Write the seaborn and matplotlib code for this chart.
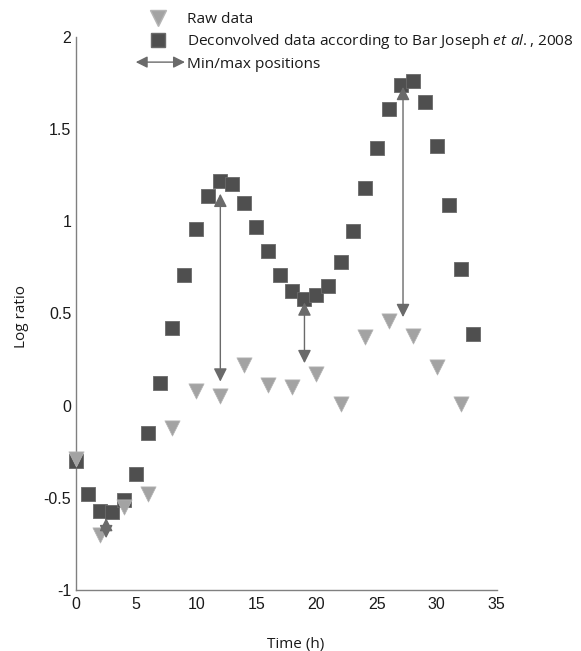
import numpy as np
import pandas as pd
import matplotlib
matplotlib.use("Agg")
import matplotlib.pyplot as plt
import matplotlib.patches as mpatches
from matplotlib.legend_handler import HandlerPatch
from matplotlib.lines import Line2D
import seaborn as sns

# raw data (triangles)
raw_time = [0, 2, 4, 6, 8, 10, 12, 14, 16, 18, 20, 22, 24, 26, 28, 30, 32]
raw_logratio = [-0.29, -0.70, -0.55, -0.48, -0.12, 0.08, 0.05, 0.22, 0.11, 0.10,
                0.17, 0.01, 0.37, 0.46, 0.38, 0.21, 0.01]

# deconvolved data (squares)
dec_time = list(range(0, 34))
dec_logratio = [-0.30, -0.48, -0.57, -0.58, -0.51, -0.37, -0.15, 0.12, 0.42, 0.71,
                0.96, 1.14, 1.22, 1.20, 1.10, 0.97, 0.84, 0.71, 0.62, 0.58,
                0.60, 0.65, 0.78, 0.95, 1.18, 1.40, 1.61, 1.74, 1.76, 1.65,
                1.41, 1.09, 0.74, 0.39]

# min/max arrows: x, top, bottom
arrow_x = [2.5, 12, 19, 27.2]
arrow_top = [-0.61, 1.15, 0.56, 1.73]
arrow_bottom = [-0.72, 0.13, 0.23, 0.48]

raw_df = pd.DataFrame({"time": raw_time, "logratio": raw_logratio})
dec_df = pd.DataFrame({"time": dec_time, "logratio": dec_logratio})

sns.set_style("white")
plt.rcParams["mathtext.fontset"] = "custom"
plt.rcParams["mathtext.it"] = "Open Sans:italic"
plt.rcParams["mathtext.rm"] = "Open Sans"

SQ_COL = "#4f4f4f"
TRI_COL = "#a3a3a3"
ARR_COL = "#6a6a6a"
AX_COL = "#808080"
TXT_COL = "#1a1a1a"

fig = plt.figure(figsize=(5.81, 6.51), dpi=100)
ax = fig.add_axes([0.131, 0.094, 0.724, 0.849])

sns.scatterplot(data=dec_df, x="time", y="logratio", marker="s", s=110,
                color=SQ_COL, edgecolor="#6a6a6a", linewidth=0.6, ax=ax,
                zorder=3, clip_on=False)
sns.scatterplot(data=raw_df, x="time", y="logratio", marker="v", s=120,
                color=TRI_COL, edgecolor="#b5b5b5", linewidth=0.5, ax=ax,
                zorder=4, clip_on=False)

for x, top, bot in zip(arrow_x, arrow_top, arrow_bottom):
    ax.annotate("", xy=(x, top), xytext=(x, bot),
                arrowprops=dict(arrowstyle="<|-|>,head_length=0.8,head_width=0.4",
                                color=ARR_COL, lw=1.0, shrinkA=0, shrinkB=0),
                zorder=5)

ax.set_xlim(0, 35)
ax.set_ylim(-1, 2)
ax.set_xticks(np.arange(0, 36, 5))
ax.set_yticks([-1, -0.5, 0, 0.5, 1, 1.5, 2])
ax.set_yticklabels(["-1", "-0.5", "0", "0.5", "1", "1.5", "2"])
for sp in ["top", "right"]:
    ax.spines[sp].set_visible(False)
for sp in ["left", "bottom"]:
    ax.spines[sp].set_color(AX_COL)
    ax.spines[sp].set_linewidth(1.0)
ax.tick_params(direction="in", length=4, color=AX_COL, labelsize=11.5,
               labelcolor=TXT_COL)
ax.tick_params(axis="y", pad=3.5)
ax.tick_params(axis="x", pad=5)
for lab in ax.get_xticklabels() + ax.get_yticklabels():
    lab.set_fontfamily("Liberation Sans")
ax.set_xlabel("Time (h)", fontsize=11, family="Open Sans", color=TXT_COL)
ax.set_ylabel("Log ratio", fontsize=11, family="Open Sans", color=TXT_COL)
ax.xaxis.set_label_coords(0.523, -0.085)
ax.yaxis.set_label_coords(-0.113, 0.495)


class HandlerArrow(HandlerPatch):
    def create_artists(self, legend, orig_handle, xdescent, ydescent, width,
                       height, fontsize, trans):
        y = height / 2 - ydescent
        p = mpatches.FancyArrowPatch((-xdescent - 4, y), (width - xdescent + 7, y),
                                     arrowstyle="<|-|>,head_length=0.7,head_width=0.35",
                                     color=ARR_COL, lw=1.0, mutation_scale=10,
                                     shrinkA=0, shrinkB=0)
        p.set_transform(trans)
        return [p]


h_raw = Line2D([], [], linestyle="none", marker="v", markersize=12,
               color=TRI_COL, markeredgecolor="#b5b5b5")
h_dec = Line2D([], [], linestyle="none", marker="s", markersize=10.5,
               color=SQ_COL, markeredgecolor="#6a6a6a")
h_arr = mpatches.FancyArrow(0, 0, 1, 0)
leg = fig.legend([h_raw, h_dec, h_arr],
                 ["Raw data",
                  r"Deconvolved data according to Bar Joseph $et\ al.$, 2008",
                  "Min/max positions"],
                 handler_map={mpatches.FancyArrow: HandlerArrow()},
                 loc="upper left", bbox_to_anchor=(0.222, 1.0), frameon=False,
                 prop={"family": "Open Sans", "size": 11.1},
                 handlelength=2.2, handletextpad=0.75, labelspacing=0.33,
                 borderpad=0.3)
for t in leg.get_texts():
    t.set_color(TXT_COL)

fig.savefig("out.png", dpi=100)
